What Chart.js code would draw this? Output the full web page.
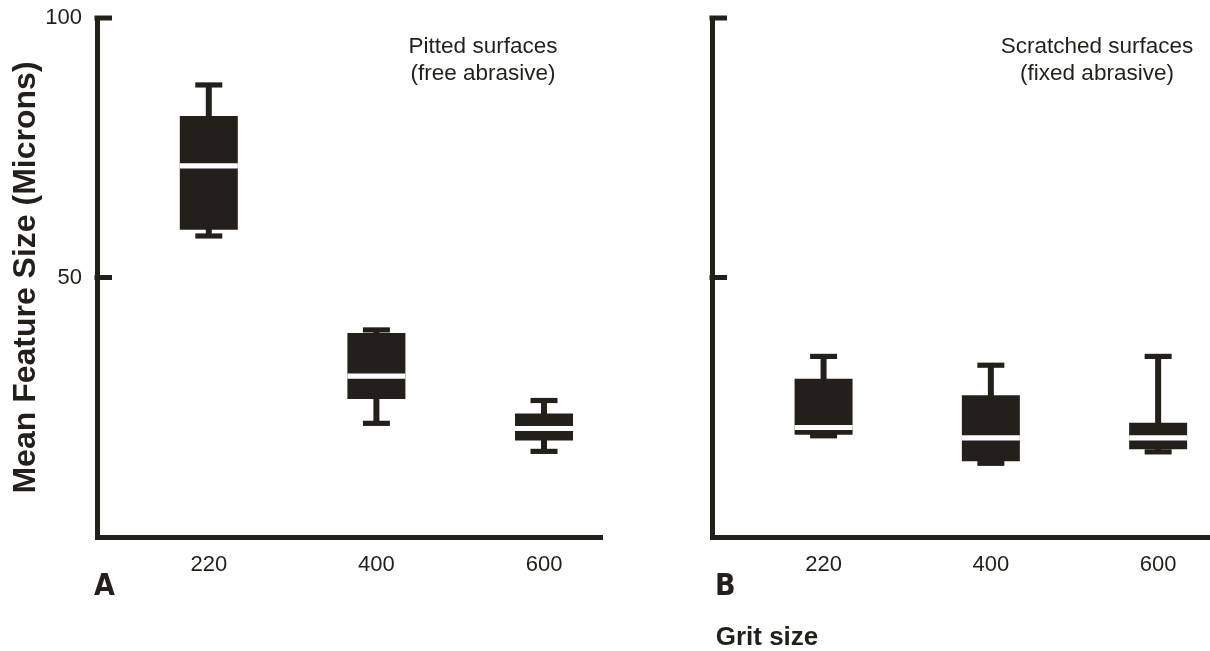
<!DOCTYPE html>
<html>
<head>
<meta charset="utf-8">
<script src="https://cdn.jsdelivr.net/npm/chart.js@4.4.0/dist/chart.umd.min.js"></script>
<style>
  body { margin: 0; background: #fff; width: 1210px; height: 651px; position: relative; overflow: hidden; }
  canvas { position: absolute; top: 0; }
  #chartA { left: 0; }
  #chartB { left: 605px; }
  #gritLabel {
    position: absolute; left: 667px; top: 623px; width: 200px; text-align: center;
    font: bold 26px "Liberation Sans", Arial, sans-serif; line-height: 26px; color: #231f1b;
  }
</style>
</head>
<body>
<canvas id="chartA" width="605" height="651"></canvas>
<canvas id="chartB" width="605" height="651"></canvas>
<div id="gritLabel">Grit size</div>
<script>
// Grit categories and y ticks
var grits = ['220', '400', '600'];
var yTicks = [50, 100];

// Panel A - pitted surfaces (free abrasive)
var pittedMin = [58.0, 21.9, 16.5];
var pittedQ1 = [59.2, 26.6, 18.6];
var pittedMedian = [71.5, 31.0, 20.9];
var pittedQ3 = [81.1, 39.3, 23.8];
var pittedMax = [87.1, 39.9, 26.3];

// Panel B - scratched surfaces (fixed abrasive)
var scratchedMin = [19.5, 14.2, 16.4];
var scratchedQ1 = [19.7, 14.6, 16.9];
var scratchedMedian = [21.1, 19.1, 19.1];
var scratchedQ3 = [30.5, 27.3, 22.0];
var scratchedMax = [34.8, 33.1, 34.8];

var ink = '#231f1b';
var capHalf = 0.5; // half thickness of caps and median line, in microns

Chart.defaults.font.family = '"Liberation Sans", Arial, sans-serif';
Chart.defaults.color = ink;

// floating bar data at grit positions 1..3
function span(lo, hi) {
    return grits.map((g, i) => ({x: i + 1, y: [lo[i], hi[i]]}));
}
function band(v) {
    return grits.map((g, i) => ({x: i + 1, y: [v[i] - capHalf, v[i] + capHalf]}));
}

function boxDatasets(min, q1, med, q3, max) {
    var common = {grouped: false, borderWidth: 0, inflateAmount: 0};
    return [
        Object.assign({data: band(med), backgroundColor: '#ffffff', barThickness: 58, order: 0}, common),
        Object.assign({data: band(max), backgroundColor: ink, barThickness: 27, order: 1}, common),
        Object.assign({data: band(min), backgroundColor: ink, barThickness: 27, order: 1}, common),
        Object.assign({data: span(q1, q3), backgroundColor: ink, barThickness: 58, order: 2}, common),
        Object.assign({data: span(min, max), backgroundColor: ink, barThickness: 6, order: 3}, common)
    ];
}

// inward y ticks, panel letter and note text
var panelDecor = {
    id: 'panelDecor',
    afterDraw(chart, args, opts) {
        var ctx = chart.ctx, area = chart.chartArea, y = chart.scales.y;
        ctx.save();
        ctx.strokeStyle = ink;
        ctx.lineWidth = 5;
        y.ticks.forEach(t => {
            var py = y.getPixelForValue(t.value);
            ctx.beginPath();
            ctx.moveTo(area.left - 2.5, py);
            ctx.lineTo(area.left + 15, py);
            ctx.stroke();
        });
        ctx.fillStyle = ink;
        ctx.textAlign = 'left';
        ctx.textBaseline = 'alphabetic';
        ctx.font = 'bold 30px "Liberation Sans Narrow", "DejaVu Sans Condensed", sans-serif';
        ctx.fillText(opts.letter, area.left + opts.letterDx, 595);
        ctx.textAlign = 'center';
        ctx.font = '22.5px "Liberation Sans", Arial, sans-serif';
        opts.note.forEach((line, i) => ctx.fillText(line, opts.noteX, 52.5 + i * 27.5));
        ctx.restore();
    }
};

function makeChart(id, datasets, xMax, showY, decor) {
    return new Chart(document.getElementById(id), {
        type: 'bar',
        data: {datasets: datasets},
        plugins: [panelDecor],
        options: {
            responsive: false,
            animation: false,
            layout: {padding: {top: 18, right: showY ? 3 : 0, left: 0, bottom: 0}},
            plugins: {legend: {display: false}, tooltip: {enabled: false}, panelDecor: decor},
            scales: {
                x: {
                    type: 'linear',
                    min: 0.333,
                    max: xMax,
                    offset: false,
                    afterBuildTicks: s => { s.ticks = grits.map((g, i) => ({value: i + 1})); },
                    afterFit: s => { s.height = 114; s.paddingLeft = 0; s.paddingRight = 0; },
                    ticks: {
                        padding: 15,
                        font: {size: 22},
                        color: ink,
                        callback: (v, i) => grits[i]
                    },
                    grid: {display: false, drawTicks: false},
                    border: {display: true, width: 5, color: ink}
                },
                y: {
                    min: 0,
                    max: 100,
                    afterBuildTicks: s => { s.ticks = yTicks.map(v => ({value: v})); },
                    afterFit: s => { s.width = showY ? 97 : 107; s.paddingTop = 0; s.paddingBottom = 0; },
                    ticks: {display: showY, padding: 15, font: {size: 22}, color: ink},
                    grid: {display: false, drawTicks: false},
                    border: {display: true, width: 5, color: ink},
                    title: {
                        display: showY,
                        text: 'Mean Feature Size (Microns)',
                        font: {size: 32, weight: 'bold'},
                        color: ink,
                        padding: {top: 7, bottom: 0}
                    }
                }
            }
        }
    });
}

makeChart('chartA', boxDatasets(pittedMin, pittedQ1, pittedMedian, pittedQ3, pittedMax), 3.346, true,
    {letter: 'A', letterDx: -3, noteX: 483, note: ['Pitted surfaces', '(free abrasive)']});
makeChart('chartB', boxDatasets(scratchedMin, scratchedQ1, scratchedMedian, scratchedQ3, scratchedMax), 3.31, false,
    {letter: 'B', letterDx: 3, noteX: 492, note: ['Scratched surfaces', '(fixed abrasive)']});
</script>
</body>
</html>
